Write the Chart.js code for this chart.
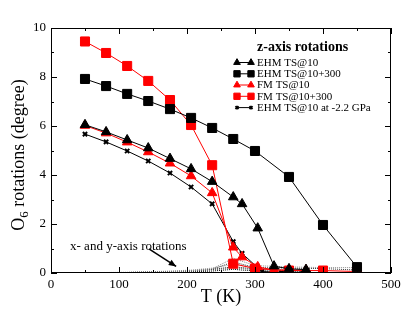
<!DOCTYPE html>
<html>
<head>
<meta charset="utf-8">
<script src="https://cdn.jsdelivr.net/npm/chart.js@4/dist/chart.umd.min.js"></script>
<style>
  html, body { margin: 0; padding: 0; background: #fff; }
  #wrap { width: 415px; height: 321px; }
</style>
</head>
<body>
<div id="wrap"><canvas id="chart" width="415" height="321"></canvas></div>
<script>
// temperatures (K) and z-axis rotations (degree)
const ehmTs10T = [50, 81, 112, 143, 175, 206, 237, 268, 281, 304, 328, 350, 375];
const ehmTs10 = [6.05, 5.76, 5.43, 5.1, 4.67, 4.25, 3.73, 3.1, 2.82, 1.83, 0.28, 0.17, 0.14];

const ehm300T = [50, 81, 112, 143, 175, 206, 237, 268, 300, 350, 400, 450];
const ehm300 = [7.92, 7.63, 7.31, 7.02, 6.69, 6.33, 5.92, 5.47, 4.98, 3.92, 1.96, 0.24];

const fmTs10T = [50, 81, 112, 143, 175, 206, 237, 268, 281, 304, 328, 350, 375];
const fmTs10 = [6.02, 5.71, 5.34, 4.94, 4.48, 3.96, 3.27, 1.05, 0.65, 0.25, 0.12, 0.12, 0.12];

const fm300T = [50, 81, 112, 143, 175, 206, 237, 268, 300, 350, 400, 450];
const fm300 = [9.45, 8.98, 8.45, 7.84, 7.06, 6.04, 4.4, 0.38, 0.18, 0.1, 0.1, 0.06];

const ehmPT = [50, 81, 112, 143, 175, 206, 237, 268, 281, 310, 339, 370];
const ehmP = [5.67, 5.35, 4.98, 4.57, 4.08, 3.51, 2.82, 1.28, 0.8, 0.06, 0.02, 0.02];

// x- and y-axis rotations (dotted)
const dotT1 = [50, 81, 112, 143, 175, 206, 237, 268, 300, 350, 400, 450];
const dotA = [0, 0.01, 0.02, 0.03, 0.05, 0.09, 0.17, 0.6, 0.3, 0.25, 0.22, 0.22];
const dotB = [0, 0.01, 0.02, 0.03, 0.05, 0.08, 0.15, 0.45, 0.22, 0.2, 0.18, 0.12];
const dotT2 = [50, 81, 112, 143, 175, 206, 237, 268, 281, 304, 328, 350, 375];
const dotC = [0, 0.02, 0.03, 0.05, 0.08, 0.12, 0.2, 0.35, 0.3, 0.2, 0.15, 0.12, 0.1];
const dotD = [0, 0.01, 0.02, 0.04, 0.06, 0.1, 0.15, 0.25, 0.22, 0.15, 0.12, 0.1, 0.08];
const dotE = [0, 0.01, 0.02, 0.03, 0.05, 0.07, 0.12, 0.2, 0.18, 0.1, 0.06, 0.05, 0.05];
const dotF = [0, 0, 0.01, 0.02, 0.03, 0.05, 0.08, 0.15, 0.12, 0.08, 0.06, 0.05, 0.04];

const xTicks = [0, 100, 200, 300, 400, 500];
const yTicks = [0, 2, 4, 6, 8, 10];

const legendTitle = "z-axis rotations";
const noteText = "x- and y-axis rotations";
const yTitle = ["O", "6", " rotations (degree)"];
const xTitle = "T (K)";

const SERIF = "'Liberation Serif', 'DejaVu Serif', serif";

function pts(ts, vs) {
  return ts.map((t, i) => ({ x: t, y: vs[i] }));
}

function mainSet(label, ts, vs, color, style, radius, bw) {
  return {
    label, data: pts(ts, vs),
    borderColor: color, backgroundColor: color,
    borderWidth: 1, pointStyle: style, pointRadius: radius,
    pointBorderWidth: bw, pointBackgroundColor: color, pointBorderColor: color,
    tension: 0
  };
}

function dotSet(ts, vs, color) {
  return {
    label: '', data: pts(ts, vs), borderColor: color, borderWidth: 1,
    borderDash: [1, 1], pointRadius: 0, tension: 0
  };
}

const datasets = [
  mainSet('EHM TS@10', ehmTs10T, ehmTs10, '#000', 'triangle', 5.5, 1),
  mainSet('EHM TS@10+300', ehm300T, ehm300, '#000', 'rect', 6.4, 1),
  mainSet('FM TS@10', fmTs10T, fmTs10, '#ff0000', 'triangle', 5.5, 1),
  mainSet('FM TS@10+300', fm300T, fm300, '#ff0000', 'rect', 6.4, 1),
  mainSet('EHM TS@10 at -2.2 GPa', ehmPT, ehmP, '#000', 'crossRot', 3, 2),
  dotSet(dotT1, dotA, '#888'),
  dotSet(dotT1, dotB, '#333'),
  dotSet(dotT2, dotC, '#999'),
  dotSet(dotT2, dotD, '#222'),
  dotSet(ehmPT, dotE, '#666'),
  dotSet(ehmPT, dotF, '#000')
];

// inward ticks on all four sides, frame, titles, legend and note
const decor = {
  id: 'decor',
  afterDraw(chart) {
    const ctx = chart.ctx;
    const a = chart.chartArea;
    const xs = chart.scales.x, ys = chart.scales.y;
    ctx.save();
    ctx.strokeStyle = '#000';
    ctx.lineWidth = 1;
    ctx.strokeRect(a.left + 0.5, a.top + 0.5, a.right - a.left - 1, a.bottom - a.top - 1);
    ctx.beginPath();
    for (let v = 0; v <= 500; v += 50) {
      const px = Math.round(xs.getPixelForValue(v)) + 0.5;
      const len = v % 100 === 0 ? 6 : 3;
      ctx.moveTo(px, a.bottom); ctx.lineTo(px, a.bottom - len);
      ctx.moveTo(px, a.top); ctx.lineTo(px, a.top + len);
    }
    for (let v = 0; v <= 10; v += 1) {
      const py = Math.round(ys.getPixelForValue(v)) + 0.5;
      const len = v % 2 === 0 ? 6 : 3;
      ctx.moveTo(a.left, py); ctx.lineTo(a.left + len, py);
      ctx.moveTo(a.right, py); ctx.lineTo(a.right - len, py);
    }
    ctx.stroke();

    // x title
    ctx.fillStyle = '#000';
    ctx.font = '18px ' + SERIF;
    ctx.textAlign = 'center';
    ctx.textBaseline = 'middle';
    ctx.fillText(xTitle, (a.left + a.right) / 2, 297);

    // y title with subscript
    ctx.save();
    ctx.translate(19, 155);
    ctx.rotate(-Math.PI / 2);
    ctx.textAlign = 'left';
    ctx.textBaseline = 'middle';
    const big = '18px ' + SERIF, small = '13px ' + SERIF;
    ctx.font = big;
    const w0 = ctx.measureText(yTitle[0]).width;
    const w2 = ctx.measureText(yTitle[2]).width;
    ctx.font = small;
    const w1 = ctx.measureText(yTitle[1]).width;
    let x0 = -(w0 + w1 + w2) / 2;
    ctx.font = big;
    ctx.fillText(yTitle[0], x0, 0);
    ctx.font = small;
    ctx.fillText(yTitle[1], x0 + w0, 6);
    ctx.font = big;
    ctx.fillText(yTitle[2], x0 + w0 + w1, 0);
    ctx.restore();

    // legend
    ctx.textAlign = 'left';
    ctx.textBaseline = 'middle';
    ctx.font = 'bold 14px ' + SERIF;
    ctx.fillText(legendTitle, 257, 47);
    ctx.font = '11px ' + SERIF;
    const rows = [62.5, 73.8, 85, 96.3, 107.6];
    for (let i = 0; i < 5; i++) {
      const ds = chart.data.datasets[i];
      const y = rows[i];
      ctx.strokeStyle = ds.borderColor;
      ctx.lineWidth = 1;
      ctx.beginPath();
      ctx.moveTo(237, y); ctx.lineTo(251, y);
      ctx.stroke();
      ctx.fillStyle = ds.pointBackgroundColor;
      ctx.strokeStyle = ds.pointBorderColor;
      ctx.lineWidth = ds.pointBorderWidth;
      const opt = { pointStyle: ds.pointStyle, radius: ds.pointRadius * 0.7, rotation: 0, borderWidth: ds.pointBorderWidth };
      Chart.helpers.drawPoint(ctx, opt, 237, y);
      Chart.helpers.drawPoint(ctx, opt, 251, y);
      ctx.fillStyle = '#000';
      ctx.fillText(ds.label, 257, y + 0.5);
    }

    // note with arrow, placed in data coordinates
    ctx.font = '13px ' + SERIF;
    ctx.fillStyle = '#000';
    ctx.fillText(noteText, xs.getPixelForValue(28), ys.getPixelForValue(1.08));
    const ax0 = xs.getPixelForValue(144), ay0 = ys.getPixelForValue(0.98);
    const ax1 = xs.getPixelForValue(184), ay1 = ys.getPixelForValue(0.27);
    ctx.strokeStyle = '#000';
    ctx.lineWidth = 1.5;
    ctx.beginPath();
    ctx.moveTo(ax0, ay0); ctx.lineTo(ax1, ay1);
    ctx.stroke();
    const ang = Math.atan2(ay1 - ay0, ax1 - ax0);
    ctx.beginPath();
    ctx.moveTo(ax1, ay1);
    ctx.lineTo(ax1 - 8 * Math.cos(ang - 0.4), ay1 - 8 * Math.sin(ang - 0.4));
    ctx.lineTo(ax1 - 8 * Math.cos(ang + 0.4), ay1 - 8 * Math.sin(ang + 0.4));
    ctx.closePath();
    ctx.fill();
    ctx.restore();
  }
};

new Chart(document.getElementById('chart'), {
  type: 'line',
  data: { datasets },
  options: {
    responsive: false,
    animation: false,
    layout: { padding: { top: 28, right: 24, left: 0, bottom: 0 } },
    plugins: { legend: { display: false }, tooltip: { enabled: false } },
    scales: {
      x: {
        type: 'linear', min: 0, max: 500,
        afterFit: s => { s.height = 48; },
        afterBuildTicks: s => { s.ticks = xTicks.map(v => ({ value: v })); },
        grid: { display: false, drawTicks: false },
        border: { display: false },
        ticks: { color: '#000', padding: 4, maxRotation: 0, font: { family: SERIF, size: 13 } }
      },
      y: {
        type: 'linear', min: 0, max: 10,
        afterFit: s => { s.width = 51; },
        afterBuildTicks: s => { s.ticks = yTicks.map(v => ({ value: v })); },
        grid: { display: false, drawTicks: false },
        border: { display: false },
        ticks: { color: '#000', padding: 5, font: { family: SERIF, size: 13 } }
      }
    }
  },
  plugins: [decor]
});
</script>
</body>
</html>
